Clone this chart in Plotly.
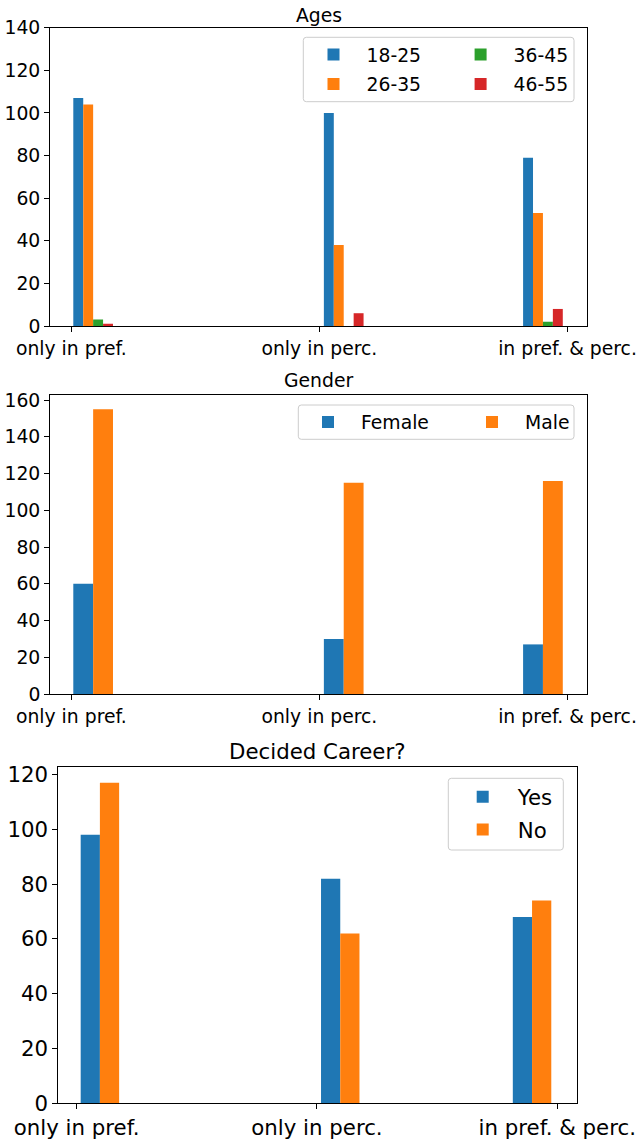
import plotly.graph_objects as go

W, H = 636, 1140

# ---------------- data ----------------
categories = ["only in pref.", "only in perc.", "in pref. & perc."]
tick_pos = [0, 1, 2]

# x position where each group of bars starts (as in the original plot)
group_x_top = [0.008, 1.018, 1.821]
group_x_bottom = [0.017, 1.017, 1.815]

age_labels = ["18-25", "26-35", "36-45", "46-55"]
age_18_25 = [107, 100, 79]
age_26_35 = [104, 38, 53]
age_36_45 = [3, 0, 2]
age_46_55 = [1, 6, 8]

gender_labels = ["Female", "Male"]
gender_female = [60, 30, 27]
gender_male = [155, 115, 116]

career_labels = ["Yes", "No"]
career_yes = [98, 82, 68]
career_no = [117, 62, 74]

# ---------------- style ----------------
COLORS = ["#1f77b4", "#ff7f0e", "#2ca02c", "#d62728"]
FONT = "DejaVu Sans"
FS12 = 18.8
FS3 = 21.3


def px_x(p):
    return p / W


def px_y(p):
    return 1 - p / H


fig = go.Figure()

# Panel 1: Ages (two legend columns)
age_series = [age_18_25, age_26_35, age_36_45, age_46_55]
for k, (lab, vals) in enumerate(zip(age_labels, age_series)):
    fig.add_trace(go.Bar(
        x=group_x_top, y=vals, width=0.04, offset=0.04 * k,
        name=lab, marker=dict(color=COLORS[k], line=dict(width=0)),
        xaxis="x", yaxis="y", legend="legend" if k < 2 else "legend4",
        legendgroup=lab, hoverinfo="skip",
    ))

# Panel 2: Gender
for k, (lab, vals) in enumerate(zip(gender_labels, [gender_female, gender_male])):
    fig.add_trace(go.Bar(
        x=group_x_top, y=vals, width=0.08, offset=0.08 * k,
        name=lab, marker=dict(color=COLORS[k], line=dict(width=0)),
        xaxis="x2", yaxis="y2", legend="legend2", hoverinfo="skip",
    ))

# Panel 3: Decided Career?
for k, (lab, vals) in enumerate(zip(career_labels, [career_yes, career_no])):
    fig.add_trace(go.Bar(
        x=group_x_bottom, y=vals, width=0.08, offset=0.08 * k,
        name=lab, marker=dict(color=COLORS[k], line=dict(width=0)),
        xaxis="x3", yaxis="y3", legend="legend3",
        legendgroup=lab, hoverinfo="skip",
    ))


def xaxis(dom, rng, anchor, fs):
    return dict(domain=[px_x(dom[0]), px_x(dom[1])], range=rng, anchor=anchor,
                automargin=False, ticklabeloverflow="allow",
                tickmode="array", tickvals=tick_pos, ticktext=categories,
                showline=True, mirror=True, linecolor="black", linewidth=1,
                ticks="outside", ticklen=5, tickwidth=1, tickcolor="black",
                showgrid=False, zeroline=False,
                tickfont=dict(family=FONT, size=fs, color="black"))


def yaxis(dom, rng, anchor, fs, dtick=20):
    return dict(domain=[px_y(dom[1]), px_y(dom[0])], range=rng, anchor=anchor,
                automargin=False, tick0=0, dtick=dtick,
                showline=True, mirror=True, linecolor="black", linewidth=1,
                ticks="outside", ticklen=5, tickwidth=1, tickcolor="black",
                showgrid=False, zeroline=False,
                tickfont=dict(family=FONT, size=fs, color="black"))


def rounded_box(x0, y0, x1, y1, r=3):
    """Rounded legend frame, pixel coords -> paper coords path."""
    X = lambda p: px_x(p)
    Y = lambda p: px_y(p)
    return (f"M{X(x0 + r)},{Y(y0)} L{X(x1 - r)},{Y(y0)} Q{X(x1)},{Y(y0)} {X(x1)},{Y(y0 + r)} "
            f"L{X(x1)},{Y(y1 - r)} Q{X(x1)},{Y(y1)} {X(x1 - r)},{Y(y1)} "
            f"L{X(x0 + r)},{Y(y1)} Q{X(x0)},{Y(y1)} {X(x0)},{Y(y1 - r)} "
            f"L{X(x0)},{Y(y0 + r)} Q{X(x0)},{Y(y0)} {X(x0 + r)},{Y(y0)} Z")


p1x, p1y = (50.1, 587.0), (27.7, 326.0)
p2x, p2y = (50.1, 587.0), (395.0, 694.0)
p3x, p3y = (58.3, 576.9), (766.7, 1103.3)

legend_common = dict(bgcolor="rgba(0,0,0,0)", borderwidth=0,
                     itemclick=False, itemdoubleclick=False,
                     xanchor="left", yanchor="top")

box_style = dict(type="path", xref="paper", yref="paper", layer="above",
                 fillcolor="rgba(255,255,255,0.8)", line=dict(color="#cccccc", width=1))

fig.update_layout(
    template="none",
    width=W, height=H,
    margin=dict(l=0, r=0, t=0, b=0, autoexpand=False),
    paper_bgcolor="white", plot_bgcolor="white",
    font=dict(family=FONT, color="black"),
    barmode="overlay",
    xaxis=xaxis(p1x, [-0.0855, 2.0786], "y", FS12),
    yaxis=yaxis(p1y, [0, 140], "x", FS12),
    xaxis2=xaxis(p2x, [-0.0855, 2.0786], "y2", FS12),
    yaxis2=yaxis(p2y, [0, 162.75], "x2", FS12),
    xaxis3=xaxis(p3x, [-0.0761, 2.0816], "y3", FS3),
    yaxis3=yaxis(p3y, [0, 122.85], "x3", FS3),
    legend=dict(orientation="v", traceorder="grouped", tracegroupgap=2,
                x=px_x(300.5), y=px_y(35.8),
                font=dict(family=FONT, size=FS12), itemwidth=56, **legend_common),
    legend4=dict(orientation="v", traceorder="grouped", tracegroupgap=2,
                 x=px_x(447.6), y=px_y(35.8),
                 font=dict(family=FONT, size=FS12), itemwidth=56, **legend_common),
    legend2=dict(orientation="h", x=px_x(295), y=px_y(403.2),
                 font=dict(family=FONT, size=FS12), itemwidth=56,
                 entrywidth=93, **legend_common),
    legend3=dict(orientation="v", traceorder="grouped", tracegroupgap=2,
                 x=px_x(447.7), y=px_y(776.4),
                 font=dict(family=FONT, size=FS3), itemwidth=60, **legend_common),
    shapes=[
        dict(path=rounded_box(303.3, 37.3, 574.0, 101.7), **box_style),
        dict(path=rounded_box(298.3, 405.0, 574.0, 439.3), **box_style),
        dict(path=rounded_box(448.3, 778.3, 563.3, 850.0), **box_style),
    ],
    annotations=[
        dict(text="Ages", x=px_x(sum(p1x) / 2), y=px_y(15), xref="paper", yref="paper",
             showarrow=False, xanchor="center", yanchor="middle",
             font=dict(family=FONT, size=FS12, color="black")),
        dict(text="Gender", x=px_x(sum(p2x) / 2), y=px_y(380.7), xref="paper", yref="paper",
             showarrow=False, xanchor="center", yanchor="middle",
             font=dict(family=FONT, size=FS12, color="black")),
        dict(text="Decided Career?", x=px_x(sum(p3x) / 2), y=px_y(751.7), xref="paper", yref="paper",
             showarrow=False, xanchor="center", yanchor="middle",
             font=dict(family=FONT, size=FS3, color="black")),
    ],
)

fig.write_html("out.html", config={"displayModeBar": False},
               post_script="document.body.style.margin='0px';document.body.style.overflow='hidden';")
